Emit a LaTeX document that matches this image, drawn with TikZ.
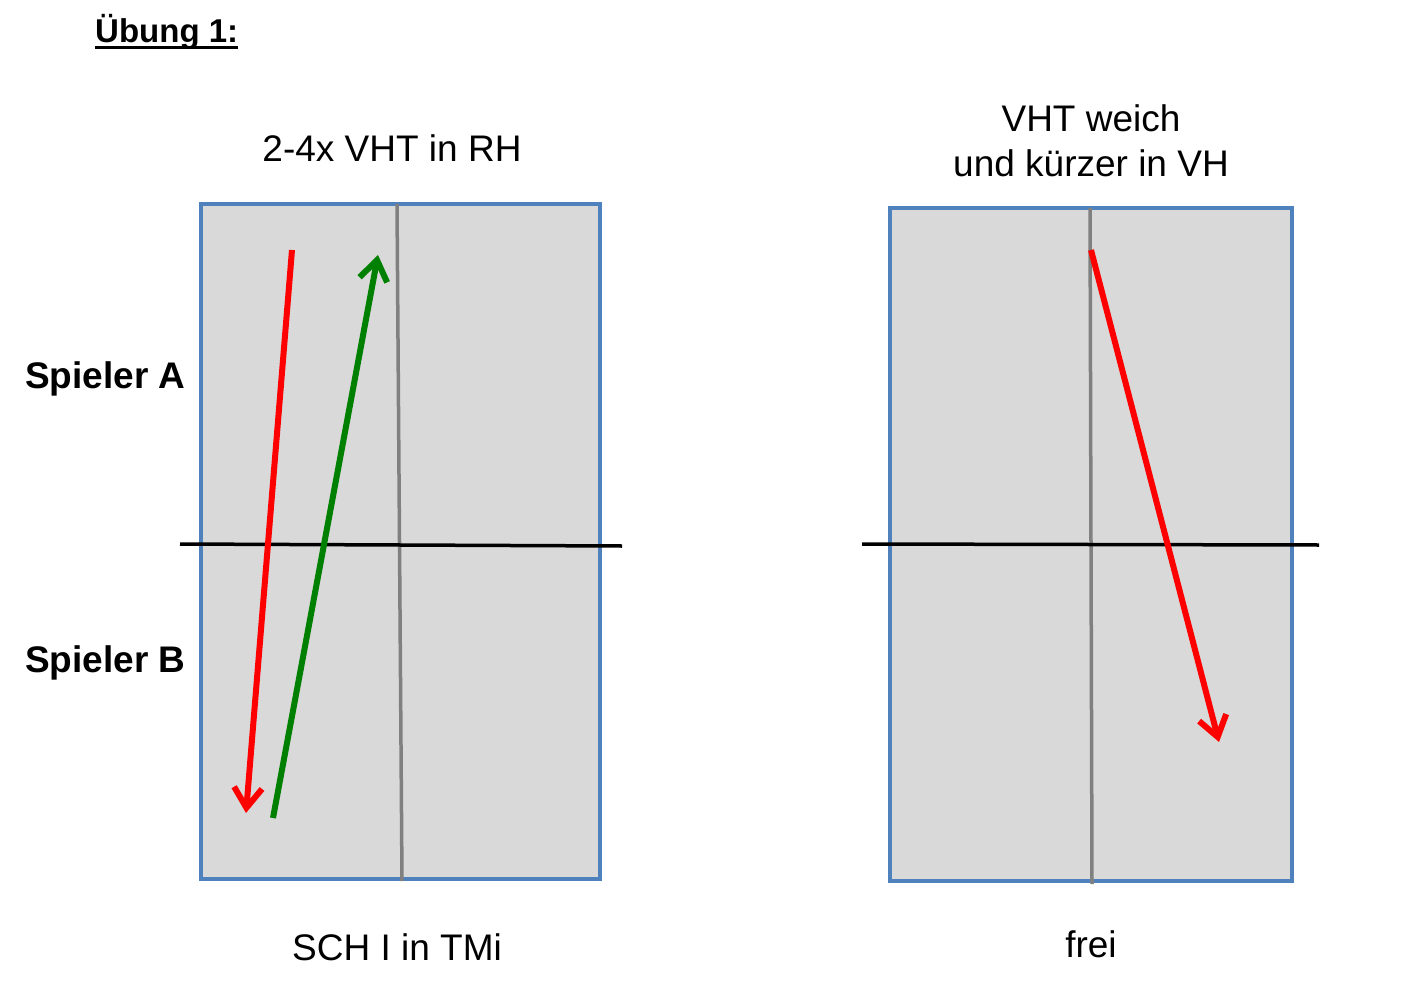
\documentclass[tikz,border=0pt]{standalone}
\usepackage{fontspec}
\setmainfont{Liberation Sans}
\usetikzlibrary{arrows.meta}
\definecolor{courtfill}{HTML}{D9D9D9}
\definecolor{courtedge}{HTML}{4F81BD}
\definecolor{midgray}{HTML}{808080}
\definecolor{arrred}{HTML}{FF0000}
\definecolor{arrgreen}{HTML}{008000}
\tikzset{
  court/.style={fill=courtfill, draw=courtedge, line width=3.5pt},
  midline/.style={draw=midgray, line width=3.5pt},
  netline/.style={draw=black, line width=3.5pt},
  ballarrow/.style={line width=6pt, -{Straight Barb[length=20pt,width=28pt,line width=6pt]}},
  lbl/.style={anchor=base, inner sep=0pt, font=\fontsize{37}{45}\selectfont},
  boldlbl/.style={anchor=base west, inner sep=0pt, font=\fontsize{37}{45}\selectfont\bfseries},
}
\begin{document}
\begin{tikzpicture}[x=1pt,y=-1pt]
\useasboundingbox (0,0) rectangle (1418,995);
% title
\node[anchor=base west, inner sep=0pt, font=\fontsize{33}{40}\selectfont\bfseries] (title) at (95,43) {Übung 1:};
\draw[line width=3pt] ([yshift=-5pt]title.base west) -- ([yshift=-5pt]title.base east);
% left court
\draw[court] (201,204) rectangle (600,879);
\coordinate (lmt) at (397,204);
\coordinate (lmb) at (402,881);
\draw[midline] (lmt) -- (lmb);
\coordinate (lnl) at (180,544);
\coordinate (lnr) at (622,546);
\draw[netline] (lnl) -- (lnr);
% right court
\draw[court] (890,208) rectangle (1292,881);
\coordinate (rmt) at (1090,208);
\coordinate (rmb) at (1092,884);
\draw[midline] (rmt) -- (rmb);
\coordinate (rnl) at (862,544);
\coordinate (rnr) at (1319,545);
\draw[netline] (rnl) -- (rnr);
% arrows
\coordinate (ra1) at (292,250);
\coordinate (ra2) at (246,813);
\draw[ballarrow, arrred] (ra1) -- (ra2);
\coordinate (ga1) at (273,818);
\coordinate (ga2) at (378,255);
\draw[ballarrow, arrgreen] (ga1) -- (ga2);
\coordinate (rb1) at (1091,250);
\coordinate (rb2) at (1219,742);
\draw[ballarrow, arrred] (rb1) -- (rb2);
% labels
\node[lbl] (t1) at (392,162) {2-4x VHT in RH};
\node[lbl] (t2) at (1091,132) {VHT weich};
\node[lbl] (t3) at (1091,177) {und kürzer in VH};
\node[boldlbl] (pa) at (25,388) {Spieler A};
\node[boldlbl] (pb) at (25,672) {Spieler B};
\node[lbl] (b1) at (397,960) {SCH I in TMi};
\node[lbl] (b2) at (1091,957) {frei};
\end{tikzpicture}
\end{document}
